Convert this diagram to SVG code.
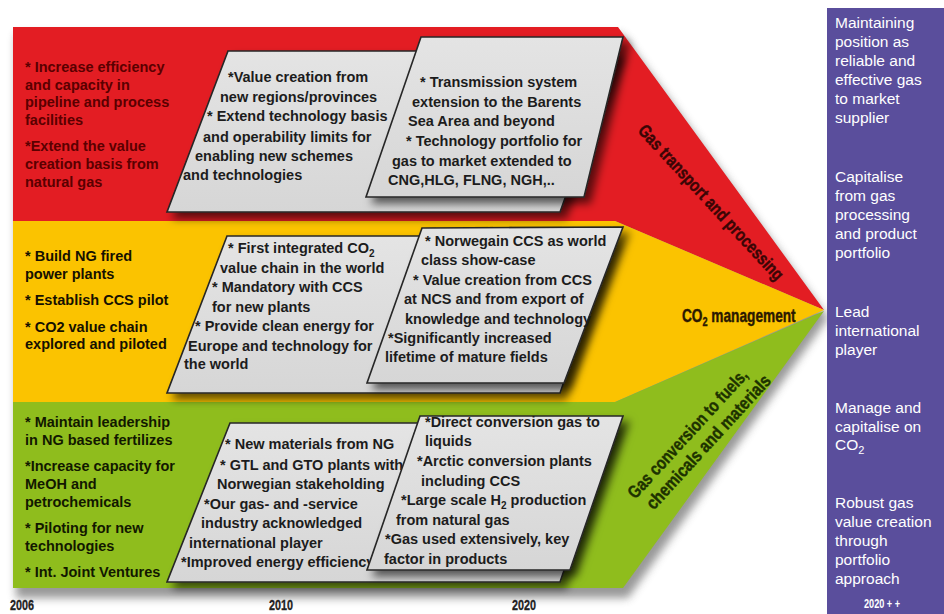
<svg xmlns="http://www.w3.org/2000/svg" width="944" height="614" viewBox="0 0 944 614">
  <defs>
    <filter id="softShadow" x="-20%" y="-20%" width="140%" height="140%">
      <feGaussianBlur stdDeviation="4"/>
    </filter>
    <filter id="paraShadow" x="-10%" y="-10%" width="130%" height="140%">
      <feDropShadow dx="6" dy="6" stdDeviation="4" flood-color="#000" flood-opacity="0.6"/>
    </filter>
    <linearGradient id="paraFill" x1="0" y1="0" x2="0" y2="1">
      <stop offset="0" stop-color="#e4e4e4"/>
      <stop offset="1" stop-color="#d6d6d6"/>
    </linearGradient>
  </defs>
  <style>
    .txt { font-family: "Liberation Sans", Arial, sans-serif; font-weight: bold; font-size: 14.5px; }
    .red-txt { fill: #5a0000; }
    .yel-txt { fill: #151000; }
    .grn-txt { fill: #121800; }
    .para { fill: url(#paraFill); stroke: #262626; stroke-width: 1.6; stroke-linejoin: miter; }
    .para-txt { fill: #1c1c1c; }
    .theme { font-family: "Liberation Sans", Arial, sans-serif; font-weight: bold; font-size: 18px; stroke-width: 0.4; }
    .year { font-family: "Liberation Sans", Arial, sans-serif; font-weight: bold; font-size: 14px; fill: #222; stroke: #222; stroke-width: 0.3; }
    .goal { font-family: "Liberation Sans", Arial, sans-serif; font-size: 15.5px; fill: #ffffff; }
  </style>

  <rect x="0" y="0" width="944" height="614" fill="#ffffff"/>

  <!-- chevron drop shadow -->
  <polygon points="16,34 622,34 828,318 628,598 16,598" fill="#555" opacity="0.6" filter="url(#softShadow)"/>

  <!-- three theme bands -->
  <g id="band-transport">
    <polygon points="13,27 618,27 824,310 615,221 13,221" fill="#e31d23"/>
  </g>
  <g id="band-co2">
    <polygon points="13,221 615,221 824,310 615,402 13,402" fill="#fbc300"/>
  </g>
  <g id="band-conversion">
    <polygon points="13,402 615,402 824,311 623,588 13,588" fill="#8fbd1d"/>
  </g>

  <!-- left-hand goals per band -->
  <g id="goals-transport" class="txt red-txt">
    <text x="25" y="72">* Increase efficiency</text>
    <text x="25" y="90">and capacity in</text>
    <text x="25" y="107">pipeline and process</text>
    <text x="25" y="125">facilities</text>
    <text x="25" y="151">*Extend the value</text>
    <text x="25" y="169">creation basis from</text>
    <text x="25" y="187">natural gas</text>
  </g>
  <g id="goals-co2" class="txt yel-txt">
    <text x="25" y="261">* Build NG fired</text>
    <text x="25" y="279">power plants</text>
    <text x="25" y="305">* Establish CCS pilot</text>
    <text x="25" y="332">* CO2 value chain</text>
    <text x="25" y="349">explored and piloted</text>
  </g>
  <g id="goals-conversion" class="txt grn-txt">
    <text x="25" y="427">* Maintain leadership</text>
    <text x="25" y="445">in NG based fertilizes</text>
    <text x="25" y="471">*Increase capacity for</text>
    <text x="25" y="489">MeOH and</text>
    <text x="25" y="507">petrochemicals</text>
    <text x="25" y="533">* Piloting for new</text>
    <text x="25" y="551">technologies</text>
    <text x="25" y="577">* Int. Joint Ventures</text>
  </g>

  <!-- 2010 and 2020 milestone sheets -->
  <g id="sheet-transport-2010">
    <polygon class="para" points="228,51 618,51 560,212 167,212" filter="url(#paraShadow)"/>
    <g class="txt para-txt">
      <text x="228" y="82">*Value creation from</text>
      <text x="220" y="102">new regions/provinces</text>
      <text x="207" y="121">* Extend technology basis</text>
      <text x="203" y="142">and operability limits for</text>
      <text x="195" y="161">enabling new schemes</text>
      <text x="183" y="180">and technologies</text>
    </g>
  </g>
  <g id="sheet-transport-2020">
    <polygon class="para" points="421,37 623,37 584,197 366,197" filter="url(#paraShadow)"/>
    <g class="txt para-txt">
      <text x="420" y="87">* Transmission system</text>
      <text x="412" y="107">extension to the Barents</text>
      <text x="408" y="126">Sea Area and beyond</text>
      <text x="406" y="146">* Technology portfolio for</text>
      <text x="392" y="166">gas to market extended to</text>
      <text x="388" y="185">CNG,HLG, FLNG, NGH,..</text>
    </g>
  </g>

  <g id="sheet-co2-2010">
    <polygon class="para" points="227,236 615,236 560,393 167,393" filter="url(#paraShadow)"/>
    <g class="txt para-txt">
      <text x="228" y="253">* First integrated CO<tspan font-size="10px" dy="4">2</tspan></text>
      <text x="220" y="273">value chain in the world</text>
      <text x="212" y="292">* Mandatory with CCS</text>
      <text x="212" y="312">for new plants</text>
      <text x="195" y="331">* Provide clean energy for</text>
      <text x="188" y="351">Europe and technology for</text>
      <text x="184" y="369">the world</text>
    </g>
  </g>
  <g id="sheet-co2-2020">
    <polygon class="para" points="422,228 623,227 564,383 367,383" filter="url(#paraShadow)"/>
    <g class="txt para-txt">
      <text x="425" y="246">* Norwegain CCS as world</text>
      <text x="421" y="265">class show-case</text>
      <text x="413" y="285">* Value creation from CCS</text>
      <text x="404" y="304">at NCS and from export of</text>
      <text x="405" y="324">knowledge and technology</text>
      <text x="388" y="343">*Significantly increased</text>
      <text x="385" y="362">lifetime of mature fields</text>
    </g>
  </g>

  <g id="sheet-conversion-2010">
    <polygon class="para" points="230,423 615,423 560,582 167,582" filter="url(#paraShadow)"/>
    <g class="txt para-txt">
      <text x="225" y="449">* New materials from NG</text>
      <text x="220" y="470">* GTL and GTO plants with</text>
      <text x="217" y="489">Norwegian stakeholding</text>
      <text x="204" y="509">*Our gas- and -service</text>
      <text x="201" y="528">industry acknowledged</text>
      <text x="189" y="548">international player</text>
      <text x="181" y="567">*Improved energy efficiency</text>
    </g>
  </g>
  <g id="sheet-conversion-2020">
    <polygon class="para" points="420,416 623,416 570,570 367,570" filter="url(#paraShadow)"/>
    <g class="txt para-txt">
      <text x="425" y="427">*Direct conversion gas to</text>
      <text x="425" y="446">liquids</text>
      <text x="417" y="466">*Arctic conversion plants</text>
      <text x="421" y="486">including CCS</text>
      <text x="401" y="505">*Large scale H<tspan font-size="10px" dy="4">2</tspan><tspan dy="-4"> production</tspan></text>
      <text x="396" y="525">from natural gas</text>
      <text x="385" y="544">*Gas used extensively, key</text>
      <text x="384" y="564">factor in products</text>
    </g>
  </g>

  <!-- band titles on the arrow head -->
  <g id="title-transport" transform="translate(711,202.5) rotate(47.2)">
    <text class="theme" x="0" y="6" text-anchor="middle" fill="#3a0505" stroke="#3a0505" textLength="205" lengthAdjust="spacingAndGlyphs">Gas transport and processing</text>
  </g>
  <g id="title-co2" transform="translate(682,322) scale(0.76,1)">
    <text class="theme" x="0" y="0" fill="#2a1800" stroke="#2a1800">CO<tspan font-size="12px" dy="4">2</tspan><tspan dy="-4"> management</tspan></text>
  </g>
  <g id="title-conversion" transform="translate(695,440.5) rotate(-47.5)">
    <text class="theme" x="0" y="-4" text-anchor="middle" fill="#1d3200" stroke="#1d3200" textLength="168" lengthAdjust="spacingAndGlyphs">Gas conversion to fuels,</text>
    <text class="theme" x="8" y="17" text-anchor="middle" fill="#1d3200" stroke="#1d3200" textLength="175" lengthAdjust="spacingAndGlyphs">chemicals and materials</text>
  </g>

  <!-- time axis -->
  <g id="axis-years">
    <text class="year" x="10" y="610" textLength="24" lengthAdjust="spacingAndGlyphs">2006</text>
    <text class="year" x="269" y="610" textLength="24" lengthAdjust="spacingAndGlyphs">2010</text>
    <text class="year" x="512" y="610" textLength="24" lengthAdjust="spacingAndGlyphs">2020</text>
  </g>

  <!-- long-term ambitions -->
  <g id="ambitions">
    <rect x="827" y="8" width="117" height="606" fill="#5a4e9c"/>
    <g class="goal">
      <text x="835" y="27.5">Maintaining</text>
      <text x="835" y="47">position as</text>
      <text x="835" y="66">reliable and</text>
      <text x="835" y="85">effective gas</text>
      <text x="835" y="104">to market</text>
      <text x="835" y="123">supplier</text>

      <text x="835" y="181.5">Capitalise</text>
      <text x="835" y="200.5">from gas</text>
      <text x="835" y="220">processing</text>
      <text x="835" y="239">and product</text>
      <text x="835" y="258">portfolio</text>

      <text x="835" y="316.5">Lead</text>
      <text x="835" y="335.5">international</text>
      <text x="835" y="354.5">player</text>

      <text x="835" y="412.5">Manage and</text>
      <text x="835" y="431.5">capitalise on</text>
      <text x="835" y="449.5">CO<tspan font-size="11px" dy="4">2</tspan></text>

      <text x="835" y="507.5">Robust gas</text>
      <text x="835" y="526.5">value creation</text>
      <text x="835" y="545.5">through</text>
      <text x="835" y="565">portfolio</text>
      <text x="835" y="584">approach</text>
    </g>
    <text x="864" y="608" font-family="Liberation Sans, Arial, sans-serif" font-weight="bold" font-size="12.5px" fill="#ffffff" textLength="36" lengthAdjust="spacingAndGlyphs">2020 + +</text>
  </g>
</svg>
